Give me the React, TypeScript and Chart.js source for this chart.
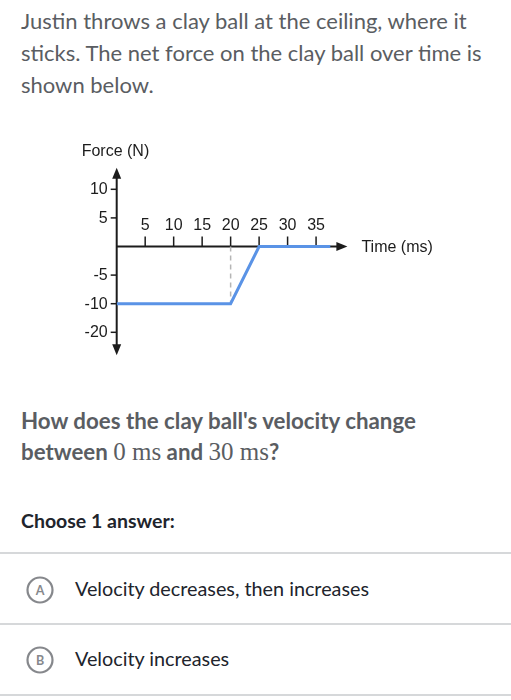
import React, { useEffect, useRef } from 'react';
import { Chart, registerables } from 'chart.js';

Chart.register(...registerables);

// ---- data ----
const timeMs = [0, 20, 25, 37.5];
const forceN = ['-10', '-10', '0', '0'];
const dashTime = [20, 20];
const dashForce = ['0', '-10'];
const yTickLabels = ['10', '5', '0', '-5', '-10', '-20'];
const xTickValues = [5, 10, 15, 20, 25, 30, 35];
const xMin = 0;
const xMax = 40.5;
const xTitle = 'Time (ms)';
const yTitle = 'Force (N)';

const CHART_FONT = '16px "Liberation Sans", Arial, sans-serif';
const INK = '#1c1c1c';

const crossAxesPlugin = {
  id: 'crossAxes',
  beforeDatasetsDraw(chart: any) {
    const { ctx, chartArea } = chart;
    const x = chart.scales.x;
    const y = chart.scales.y;
    const x0 = x.getPixelForValue(0);
    const y0 = y.getPixelForValue('0');
    const step = Math.abs(y.getPixelForValue('5') - y.getPixelForValue('10'));
    const top = chartArea.top - step * 0.75;
    const bottom = chartArea.bottom + step * 0.8;
    const right = chartArea.right;

    ctx.save();
    ctx.strokeStyle = INK;
    ctx.fillStyle = INK;
    ctx.lineWidth = 2;
    ctx.beginPath();
    ctx.moveTo(x0, top + 6);
    ctx.lineTo(x0, bottom - 6);
    ctx.stroke();
    ctx.beginPath();
    ctx.moveTo(x0, y0);
    ctx.lineTo(right - 6, y0);
    ctx.stroke();
    ctx.beginPath();
    ctx.moveTo(x0, top);
    ctx.lineTo(x0 - 4.5, top + 11);
    ctx.lineTo(x0 + 4.5, top + 11);
    ctx.closePath();
    ctx.fill();
    ctx.beginPath();
    ctx.moveTo(x0, bottom);
    ctx.lineTo(x0 - 4.5, bottom - 11);
    ctx.lineTo(x0 + 4.5, bottom - 11);
    ctx.closePath();
    ctx.fill();
    ctx.beginPath();
    ctx.moveTo(right, y0);
    ctx.lineTo(right - 11, y0 - 4.5);
    ctx.lineTo(right - 11, y0 + 4.5);
    ctx.closePath();
    ctx.fill();

    ctx.lineWidth = 1.5;
    ctx.font = CHART_FONT;
    ctx.textBaseline = 'middle';
    ctx.textAlign = 'right';
    yTickLabels.forEach((lab) => {
      if (lab === '0') return;
      const py = y.getPixelForValue(lab);
      ctx.beginPath();
      ctx.moveTo(x0 - 6, py);
      ctx.lineTo(x0, py);
      ctx.stroke();
      ctx.fillText(lab, x0 - 9, py + 0.5);
    });
    ctx.textAlign = 'center';
    xTickValues.forEach((v) => {
      const px = x.getPixelForValue(v);
      ctx.beginPath();
      ctx.moveTo(px, y0 - 10);
      ctx.lineTo(px, y0);
      ctx.stroke();
      ctx.fillText(String(v), px, y0 - 21);
    });

    ctx.textAlign = 'left';
    ctx.fillText(yTitle, x0 - 35, top - 16);
    ctx.fillText(xTitle, right + 14, y0 + 1);
    ctx.restore();
  },
};

function ForceChart() {
  const ref = useRef<HTMLCanvasElement | null>(null);
  useEffect(() => {
    if (!ref.current) return;
    const chart = new Chart(ref.current, {
      type: 'line',
      data: {
        datasets: [
          {
            label: 'impact',
            data: dashTime.map((t, i) => ({ x: t, y: dashForce[i] })),
            borderColor: '#b5b5b5',
            borderWidth: 1.5,
            borderDash: [5, 4],
            pointRadius: 0,
            fill: false,
            order: 2,
          },
          {
            label: 'Net force',
            data: timeMs.map((t, i) => ({ x: t, y: forceN[i] })),
            borderColor: '#5a93e6',
            borderWidth: 3,
            pointRadius: 0,
            tension: 0,
            fill: false,
            order: 1,
          },
        ],
      },
      options: {
        animation: false,
        responsive: false,
        maintainAspectRatio: false,
        events: [],
        layout: { padding: { left: 116.7, right: 163.6, top: 59.3, bottom: 37.7 } },
        plugins: { legend: { display: false }, tooltip: { enabled: false } },
        scales: {
          x: { type: 'linear', min: xMin, max: xMax, display: false },
          y: { type: 'category', labels: yTickLabels, offset: false, display: false },
        },
      },
      plugins: [crossAxesPlugin],
    } as any);
    return () => chart.destroy();
  }, []);
  return <canvas ref={ref} width={511} height={240} style={{ position: 'absolute', left: 0, top: 130, width: 511, height: 240 }} />;
}

const LATO = 'Lato, "Noto Sans", sans-serif';
const MATH = '"Liberation Serif", "DejaVu Serif", serif';

function Line({ baseline, size, children, weight = 400, color, left = 21 }: any) {
  const lh = size * 1.2;
  return (
    <div
      style={{
        position: 'absolute',
        left,
        top: baseline - size * 0.987,
        fontFamily: LATO,
        fontSize: size,
        lineHeight: `${lh}px`,
        fontWeight: weight,
        color,
        whiteSpace: 'nowrap',
      }}
    >
      {children}
    </div>
  );
}

function Choice({ letter, text, baseline }: any) {
  return (
    <>
      <svg
        width={30}
        height={30}
        viewBox="0 0 30 30"
        style={{ position: 'absolute', left: 25, top: baseline - 22, display: 'block' }}
      >
        <circle cx={15} cy={15} r={12.5} fill="#fff" stroke="#86888c" strokeWidth={2.2} />
        <text
          x={15}
          y={19.5}
          textAnchor="middle"
          fontFamily={LATO}
          fontWeight={700}
          fontSize={12.5}
          fill="#86888c"
        >
          {letter}
        </text>
      </svg>
      <Line baseline={baseline} size={19.8} color="#21242c" left={75}>
        {text}
      </Line>
    </>
  );
}

export default function App() {
  const heading = '#5a5d62';
  return (
    <div style={{ position: 'absolute', left: 0, top: 0, width: 511, height: 700, background: '#fff', overflow: 'hidden' }}>
      <Line baseline={30} size={22} color={heading}>Justin throws a clay ball at the ceiling, where it</Line>
      <Line baseline={62} size={22} color={heading}>sticks. The net force on the clay ball over time is</Line>
      <Line baseline={94} size={22} color={heading}>shown below.</Line>
      <ForceChart />
      <Line baseline={430} size={22.3} weight={700} color={heading}>How does the clay ball's velocity change</Line>
      <Line baseline={461} size={22.3} weight={700} color={heading}>
        between <span style={{ fontFamily: MATH, fontWeight: 400, fontSize: 25 }}>0 ms</span> and{' '}
        <span style={{ fontFamily: MATH, fontWeight: 400, fontSize: 25 }}>30 ms</span>?
      </Line>
      <Line baseline={528} size={19.5} weight={700} color="#21242c">Choose 1 answer:</Line>
      <div style={{ position: 'absolute', left: 0, top: 552, width: 511, height: 2, background: '#d6d8da' }} />
      <Choice letter="A" text="Velocity decreases, then increases" baseline={597} />
      <div style={{ position: 'absolute', left: 0, top: 623, width: 511, height: 2, background: '#d6d8da' }} />
      <Choice letter="B" text="Velocity increases" baseline={667} />
      <div style={{ position: 'absolute', left: 0, top: 694, width: 511, height: 2, background: '#d6d8da' }} />
    </div>
  );
}
